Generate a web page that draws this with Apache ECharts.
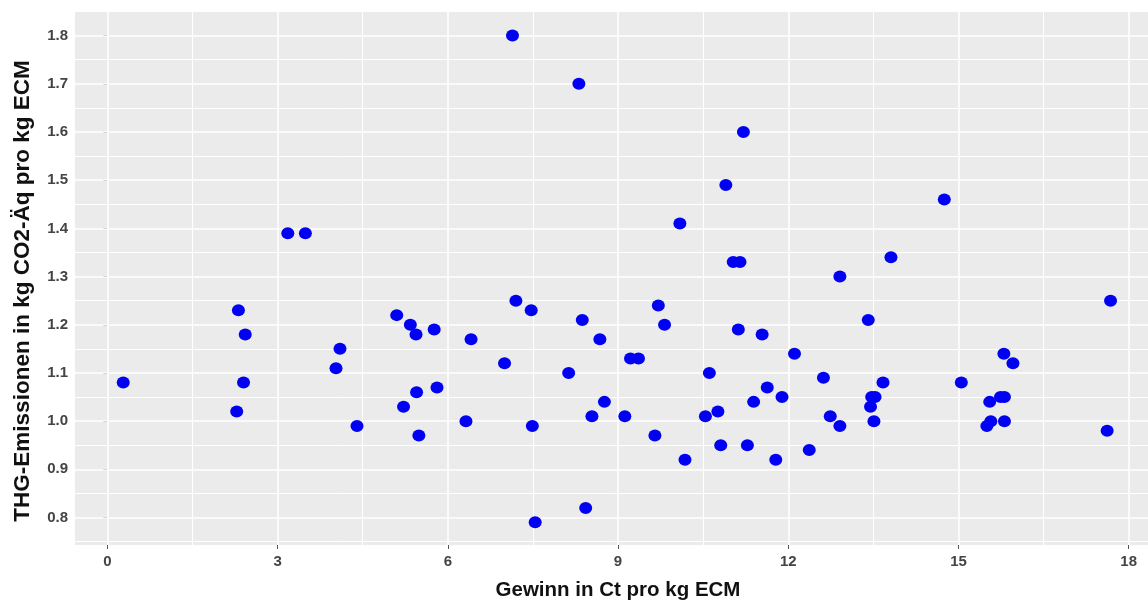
<!DOCTYPE html>
<html>
<head>
<meta charset="utf-8">
<script src="https://cdn.jsdelivr.net/npm/echarts@6/dist/echarts.min.js"></script>
<style>html,body{margin:0;padding:0;background:#fff}#c{width:1148px;height:601px}</style>
</head>
<body>
<div id="c"></div>
<script>
const gewinn = [0.28,2.31,2.43,2.40,2.28,3.18,3.49,4.03,4.10,4.40,5.10,5.34,5.44,5.76,5.45,5.22,5.81,5.49,6.41,6.32,7.00,7.20,7.47,7.49,7.54,7.14,8.31,8.13,8.37,8.68,8.76,8.54,8.43,9.22,9.36,9.12,9.71,9.82,9.65,10.18,10.61,10.54,10.76,10.81,11.12,11.54,11.63,11.39,11.28,11.78,11.89,12.11,12.37,12.62,12.74,12.91,13.41,12.91,13.81,14.75,13.47,13.53,13.45,13.51,13.67,15.05,15.80,15.96,15.55,15.74,15.81,15.57,15.50,15.81,17.68,17.62,11.21,10.90,10.09,11.03,11.15];
const emission = [1.08,1.23,1.18,1.08,1.02,1.39,1.39,1.11,1.15,0.99,1.22,1.20,1.18,1.19,1.06,1.03,1.07,0.97,1.17,1.00,1.12,1.25,1.23,0.99,0.79,1.80,1.70,1.10,1.21,1.17,1.04,1.01,0.82,1.13,1.13,1.01,1.24,1.20,0.97,0.92,1.10,1.01,1.02,0.95,1.19,1.18,1.07,1.04,0.95,0.92,1.05,1.14,0.94,1.09,1.01,0.99,1.21,1.30,1.34,1.46,1.05,1.05,1.03,1.00,1.08,1.08,1.14,1.12,1.04,1.05,1.05,1.00,0.99,1.00,1.25,0.98,1.60,1.49,1.41,1.33,1.33];
const xTicks = [0,3,6,9,12,15,18];
const xMinor = [1.5,4.5,7.5,10.5,13.5,16.5];
const yTicks = [0.8,0.9,1.0,1.1,1.2,1.3,1.4,1.5,1.6,1.7,1.8];
const yMinor = [0.75,0.85,0.95,1.05,1.15,1.25,1.35,1.45,1.55,1.65,1.75];
const xName = 'Gewinn in Ct pro kg ECM';
const yName = 'THG-Emissionen in kg CO2-Äq pro kg ECM';

const chart = echarts.init(document.getElementById('c'), null, {renderer:'canvas'});
const font = 'Liberation Sans, Arial, sans-serif';
const gridLines = [];
xMinor.forEach(v => gridLines.push({xAxis: v, lineStyle:{width:1}}));
yMinor.forEach(v => gridLines.push({yAxis: v, lineStyle:{width:1}}));
xTicks.forEach(v => gridLines.push({xAxis: v, lineStyle:{width:1.6}}));
yTicks.forEach(v => gridLines.push({yAxis: v, lineStyle:{width:1.6}}));

chart.setOption({
  animation: false,
  grid: {left:75, top:12, right:0, bottom:56, show:true, backgroundColor:'#ebebeb', borderWidth:0},
  graphic: [
    {type:'text', left:'center', x:618, y:590, style:{text:xName, fontFamily:font, fontWeight:'bold', fontSize:20.5,
      fill:'#111', align:'center', verticalAlign:'middle', x:0, y:0}, left:null, position:[618,590]},
    {type:'text', position:[23,291], rotation:Math.PI/2, style:{text:yName, fontFamily:font, fontWeight:'bold', fontSize:22.5,
      fill:'#111', align:'center', verticalAlign:'middle', x:0, y:0}}
  ],
  xAxis: {
    type:'value', min:-0.57, max:18.34,
    axisLine:{show:false},
    axisTick:{show:true, length:4, lineStyle:{color:'#555'}, customValues:xTicks},
    axisLabel:{fontFamily:font, fontWeight:'bold', fontSize:15, color:'#444', margin:9, customValues:xTicks},
    splitLine:{show:false}
  },
  yAxis: {
    type:'value', min:0.743, max:1.849,
    axisLine:{show:false},
    axisTick:{show:true, length:4, lineStyle:{color:'#555'}, customValues:yTicks},
    axisLabel:{fontFamily:font, fontWeight:'bold', fontSize:15, color:'#444', margin:7, customValues:yTicks,
      formatter: v => v.toFixed(1)},
    splitLine:{show:false}
  },
  series: [
    {type:'line', data:[], z:1, silent:true,
     markLine:{silent:true, z:1, symbol:'none', label:{show:false}, animation:false,
       lineStyle:{color:'#ffffff', type:'solid'}, data:gridLines}},
    {type:'scatter', z:5, symbol:'circle', symbolSize:[13,12],
     itemStyle:{color:'#0000f2', opacity:1},
     data: gewinn.map((x,i)=>[x, emission[i]])}
  ]
});
</script>
</body>
</html>
